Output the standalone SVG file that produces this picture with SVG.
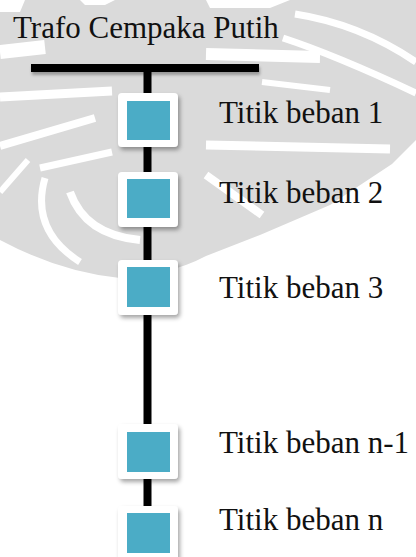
<svg xmlns="http://www.w3.org/2000/svg" width="416" height="557" viewBox="0 0 416 557">
<defs>
<style>
.wm{fill:#dadada}
.ws{fill:none;stroke:#ffffff;stroke-linecap:butt}
.wf{fill:#ffffff}
.lbl{font-family:"Liberation Serif","Times New Roman",serif;font-size:31px;fill:#111}
.box{fill:#ffffff;filter:url(#sh)}
.sq{fill:#4BACC6}
.ln{stroke:#000;stroke-width:8;fill:none}
</style>
<filter id="sh" x="-20%" y="-20%" width="150%" height="150%">
<feDropShadow dx="2" dy="3" stdDeviation="2" flood-color="#000" flood-opacity="0.35"/>
</filter>
<filter id="bsh" x="-10%" y="-100%" width="120%" height="400%">
<feDropShadow dx="1" dy="3" stdDeviation="1.5" flood-color="#000" flood-opacity="0.3"/>
</filter>
</defs>
<rect width="416" height="557" fill="#ffffff"/>
<g id="watermark">
<path class="wm" d="M0 0 H416 V140 L392 164 L330 205 L260 235 L206 256 Q170 275 120 278 Q60 272 0 240 Z"/>
<path class="wf" d="M0 0 H25 L20 12 H0 Z"/>
<path class="wf" d="M80 0 H115 L105 5 H85 Z"/>
<path class="wf" d="M206 0 H290 L270 8 H210 Z"/>
<path class="ws" stroke-width="14" d="M0 52 L45 47"/>
<path class="ws" stroke-width="9" d="M0 97 L112 91"/>
<path class="ws" stroke-width="8" d="M0 146 L95 118"/>
<path class="ws" stroke-width="7" d="M40 168 L112 152"/>
<path class="ws" stroke-width="6" d="M28 160 L0 192"/>
<path class="ws" stroke-width="8" d="M70 192 Q85 235 140 240"/>
<path class="ws" stroke-width="7" d="M45 178 Q30 230 80 262"/>
<path class="ws" stroke-width="12" d="M206 54 L320 57"/>
<path class="ws" stroke-width="7" d="M295 14 Q360 24 416 62"/>
<path class="ws" stroke-width="7" d="M283 38 Q335 55 416 93"/>
<path class="ws" stroke-width="6" d="M262 82 L330 90"/>
<path class="ws" stroke-width="9" d="M206 145 L390 149"/>
<path class="ws" stroke-width="8" d="M206 175 L262 215"/>
</g>
<g id="connectors">
<line class="ln" x1="147.5" y1="68" x2="147.5" y2="557"/>
<rect x="31" y="64" width="228" height="8" fill="#000" filter="url(#bsh)"/>
</g>
<text id="title" class="lbl" x="13" y="38" font-size="31.5">Trafo Cempaka Putih</text>
<g id="node1">
<rect class="box" x="118" y="93" width="60" height="54" rx="4"/>
<rect class="sq" x="127" y="101" width="43" height="39"/>
<text class="lbl" x="219" y="123">Titik beban 1</text>
</g>
<g id="node2">
<rect class="box" x="118" y="172" width="60" height="55" rx="4"/>
<rect class="sq" x="127" y="179" width="43" height="39"/>
<text class="lbl" x="219" y="203">Titik beban 2</text>
</g>
<g id="node3">
<rect class="box" x="118" y="260" width="60" height="55" rx="4"/>
<rect class="sq" x="127" y="267" width="43" height="40"/>
<text class="lbl" x="219" y="298">Titik beban 3</text>
</g>
<g id="node4">
<rect class="box" x="118" y="424" width="60" height="55" rx="4"/>
<rect class="sq" x="127" y="432" width="43" height="40"/>
<text class="lbl" x="219" y="453">Titik beban n-1</text>
</g>
<g id="node5">
<rect class="box" x="118" y="506" width="60" height="55" rx="4"/>
<rect class="sq" x="127" y="513" width="43" height="40"/>
<text class="lbl" x="219" y="530">Titik beban n</text>
</g>
</svg>
